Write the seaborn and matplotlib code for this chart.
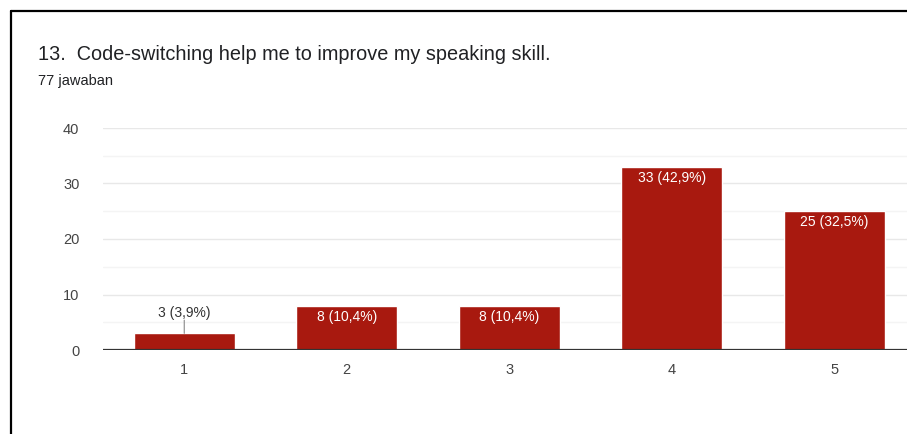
import matplotlib
matplotlib.use("Agg")
import matplotlib.pyplot as plt
from matplotlib.lines import Line2D
import seaborn as sns
import pandas as pd

# Data
categories = ["1", "2", "3", "4", "5"]
counts = [3, 8, 8, 33, 25]
total = 77

title = "13.  Code-switching help me to improve my speaking skill."
subtitle = "77 jawaban"

bar_color = "#a8190f"

sns.set_theme(style="white")
plt.rcParams["font.family"] = ["Liberation Sans", "DejaVu Sans"]

df = pd.DataFrame({"Skala": categories, "Jumlah": counts})

W, H = 907, 434
fig = plt.figure(figsize=(W / 100, H / 100), dpi=100)
fig.patch.set_facecolor("white")

# axes area in pixel coords (right side cut off like the screenshot)
left, right, top, bottom = 103, 915.5, 128, 350
ax = fig.add_axes([left / W, (H - bottom) / H, (right - left) / W, (bottom - top) / H])

sns.barplot(data=df, x="Skala", y="Jumlah", color=bar_color, width=0.62,
            saturation=1, ax=ax, zorder=3)

ax.set_xlim(-0.5, 4.5)
ax.set_ylim(0, 40)
ax.set_yticks([0, 10, 20, 30, 40])
ax.set_yticks([5, 15, 25, 35], minor=True)
ax.grid(axis="y", which="major", color="#e8e8e8", lw=1, zorder=0)
ax.grid(axis="y", which="minor", color="#f4f4f4", lw=1, zorder=0)
ax.axhline(0, color="#333333", lw=1.6, zorder=4)
for s in ax.spines.values():
    s.set_visible(False)
ax.tick_params(axis="both", which="both", length=0, labelsize=10.5, labelcolor="#444444")
ax.tick_params(axis="y", pad=17)
ax.tick_params(axis="x", pad=9)
ax.set_xlabel("")
ax.set_ylabel("")

# bar labels
for i, c in enumerate(counts):
    pct = f"{c / total * 100:.1f}".replace(".", ",")
    label = f"{c} ({pct}%)"
    if c >= 5:
        ax.annotate(label, (i, c), xytext=(0, -8), textcoords="offset points",
                    ha="center", va="center", color="white", fontsize=10, zorder=5)
    else:
        ax.annotate(label, (i, c), xytext=(0, 15), textcoords="offset points",
                    ha="center", va="center", color="#333333", fontsize=10, zorder=5)
        ax.annotate("", (i, c), xytext=(0, 9.5), textcoords="offset points",
                    arrowprops=dict(arrowstyle="-", color="#888888", lw=0.8,
                                    shrinkA=0, shrinkB=0), zorder=5)

# title and subtitle
fig.text(38 / W, 1 - 55 / H, title, fontsize=14.3, color="#202124", ha="left", va="center")
fig.text(38 / W, 1 - 81 / H, subtitle, fontsize=10.5, color="#202124", ha="left", va="center")

# black frame (screenshot border)
fig.add_artist(Line2D([10.5 / W, 10.5 / W], [0, 1 - 10.5 / H], transform=fig.transFigure,
                      color="black", lw=1.6))
fig.add_artist(Line2D([10.5 / W, 1], [1 - 10.5 / H, 1 - 10.5 / H], transform=fig.transFigure,
                      color="black", lw=1.6))

fig.savefig("out.png", dpi=100)
